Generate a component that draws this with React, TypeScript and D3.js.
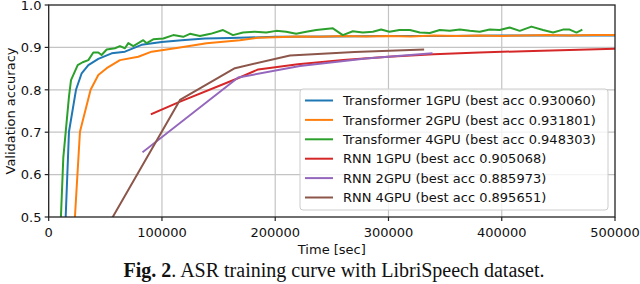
import React from "react";
import * as d3 from "d3";

const xTicks = [0, 100000, 200000, 300000, 400000, 500000];
const yTicks = [0.5, 0.6, 0.7, 0.8, 0.9, 1.0];

const t1x = [14500, 15000, 17900, 24100, 29100, 35000, 43800, 55600, 67300, 82000, 99700, 117400, 138000, 160000, 200000, 250000, 300000, 350000, 400000, 450000, 500000];
const t1y = [0.48, 0.5, 0.701, 0.8, 0.839, 0.858, 0.873, 0.886, 0.89, 0.906, 0.913, 0.917, 0.921, 0.922, 0.925, 0.926, 0.927, 0.927, 0.928, 0.928, 0.928];

const t2x = [22500, 27600, 37000, 43800, 51200, 62900, 79100, 90900, 114400, 139400, 168800, 185000, 200000, 220000, 240000, 260000, 280000, 300000, 320000, 340000, 360000, 380000, 400000, 420000, 440000, 460000, 480000, 500000];
const t2y = [0.47, 0.701, 0.8, 0.835, 0.851, 0.87, 0.878, 0.89, 0.899, 0.91, 0.917, 0.923, 0.924, 0.926, 0.925, 0.927, 0.926, 0.927, 0.926, 0.928, 0.927, 0.928, 0.927, 0.928, 0.929, 0.928, 0.929, 0.929];

const t4x = [10500, 12900, 15000, 17900, 19700, 25600, 30000, 35000, 39400, 43800, 46700, 51200, 58500, 62900, 67300, 70300, 74700, 83500, 86500, 92300, 101200, 110000, 118800, 124700, 133500, 143000, 153900, 162700, 171500, 181800, 192100, 200900, 209700, 218500, 227400, 236200, 250900, 259700, 268500, 277400, 286200, 293500, 300900, 309700, 318900, 327700, 336500, 345300, 354100, 363000, 371800, 380600, 389400, 398200, 407000, 415900, 426200, 436500, 445300, 454100, 460000, 466000, 470400];
const t4y = [0.48, 0.64, 0.7, 0.784, 0.823, 0.858, 0.865, 0.87, 0.888, 0.888, 0.882, 0.895, 0.898, 0.903, 0.898, 0.91, 0.903, 0.917, 0.91, 0.919, 0.921, 0.929, 0.925, 0.932, 0.927, 0.932, 0.941, 0.929, 0.935, 0.937, 0.935, 0.939, 0.937, 0.932, 0.937, 0.941, 0.945, 0.929, 0.938, 0.935, 0.937, 0.942, 0.937, 0.941, 0.941, 0.935, 0.934, 0.941, 0.939, 0.942, 0.939, 0.937, 0.942, 0.941, 0.947, 0.939, 0.949, 0.941, 0.935, 0.942, 0.942, 0.935, 0.941];

const r1x = [91000, 116000, 166000, 185000, 220000, 260000, 300000, 340000, 380000, 420000, 460000, 500000];
const r1y = [0.743, 0.772, 0.826, 0.848, 0.86, 0.87, 0.878, 0.884, 0.888, 0.891, 0.894, 0.897];

const r2x = [83500, 167300, 221800, 280000, 338000];
const r2y = [0.654, 0.829, 0.856, 0.874, 0.886];

const r4x = [40000, 115900, 164400, 213000, 270000, 330600];
const r4y = [0.423, 0.776, 0.851, 0.881, 0.889, 0.895];

const names = [
  "Transformer 1GPU (best acc 0.930060)",
  "Transformer 2GPU (best acc 0.931801)",
  "Transformer 4GPU (best acc 0.948303)",
  "RNN 1GPU (best acc 0.905068)",
  "RNN 2GPU (best acc 0.885973)",
  "RNN 4GPU (best acc 0.895651)",
];
const colors = ["#1f77b4", "#ff7f0e", "#2ca02c", "#d62728", "#9467bd", "#8c564b"];
const seriesX = [t1x, t2x, t4x, r1x, r2x, r4x];
const seriesY = [t1y, t2y, t4y, r1y, r2y, r4y];

export default function App() {
  const W = 640, H = 284;
  const L = 48.7, R = 615, T = 5, B = 217;
  const x = d3.scaleLinear().domain([0, 500000]).range([L, R]);
  const y = d3.scaleLinear().domain([0.5, 1.0]).range([B, T]);
  const line = d3.line<number>();
  const font = "DejaVu Sans, sans-serif";
  const legX = 300, legY = 89, legW = 308, legH = 121, rowH = 19.4;

  return (
    <svg width={W} height={H} style={{ position: "absolute", left: 0, top: 0, background: "#fff" }}>
      <defs>
        <clipPath id="plot">
          <rect x={L} y={T} width={R - L} height={B - T} />
        </clipPath>
      </defs>
      <rect x={0} y={0} width={W} height={H} fill="#fff" />
      {/* grid */}
      {xTicks.slice(1, -1).map((t) => (
        <line key={"gx" + t} x1={x(t)} x2={x(t)} y1={T} y2={B} stroke="#c4c4c4" strokeWidth={1.2} />
      ))}
      {yTicks.slice(1, -1).map((t) => (
        <line key={"gy" + t} x1={L} x2={R} y1={y(t)} y2={y(t)} stroke="#c4c4c4" strokeWidth={1.2} />
      ))}
      {/* series */}
      <g clipPath="url(#plot)">
        {seriesX.map((xs, i) => (
          <path
            key={i}
            d={line(xs.map((v, j) => [x(v), y(seriesY[i][j])] as [number, number])) || ""}
            fill="none"
            stroke={colors[i]}
            strokeWidth={2}
            strokeLinejoin="round"
            strokeLinecap="square"
          />
        ))}
      </g>
      {/* frame */}
      <rect x={L} y={T} width={R - L} height={B - T} fill="none" stroke="#222" strokeWidth={1.3} />
      {/* ticks */}
      {xTicks.map((t) => (
        <g key={"xt" + t}>
          <line x1={x(t)} x2={x(t)} y1={B} y2={B + 4} stroke="#222" strokeWidth={1.2} />
          <text x={x(t)} y={236.5} textAnchor="middle" fontFamily={font} fontSize={13} fill="#111">
            {t}
          </text>
        </g>
      ))}
      {yTicks.map((t) => (
        <g key={"yt" + t}>
          <line x1={L - 4} x2={L} y1={y(t)} y2={y(t)} stroke="#222" strokeWidth={1.2} />
          <text x={41.5} y={y(t) + 4.7} textAnchor="end" fontFamily={font} fontSize={13} fill="#111">
            {t.toFixed(1)}
          </text>
        </g>
      ))}
      <text x={(L + R) / 2} y={254} textAnchor="middle" fontFamily={font} fontSize={13} fill="#111">
        Time [sec]
      </text>
      <text
        transform={`translate(14.5, ${(T + B) / 2}) rotate(-90)`}
        textAnchor="middle"
        fontFamily={font}
        fontSize={13}
        fill="#111"
      >
        Validation accuracy
      </text>
      {/* legend */}
      <rect x={legX} y={legY} width={legW} height={legH} rx={3} fill="#fff" fillOpacity={0.8} stroke="#cccccc" strokeWidth={1} />
      {names.map((n, i) => {
        const cy = legY + 11.5 + i * rowH;
        return (
          <g key={n}>
            <line x1={305} x2={333} y1={cy} y2={cy} stroke={colors[i]} strokeWidth={2} />
            <text x={343} y={cy + 4.7} fontFamily={font} fontSize={13} fill="#111">
              {n}
            </text>
          </g>
        );
      })}
      {/* caption */}
      <text x={334} y={277} textAnchor="middle" fontFamily="Liberation Serif, Times New Roman, serif" fontSize={20} fill="#111">
        <tspan fontWeight="bold">Fig. 2</tspan>. ASR training curve with LibriSpeech dataset.
      </text>
    </svg>
  );
}
